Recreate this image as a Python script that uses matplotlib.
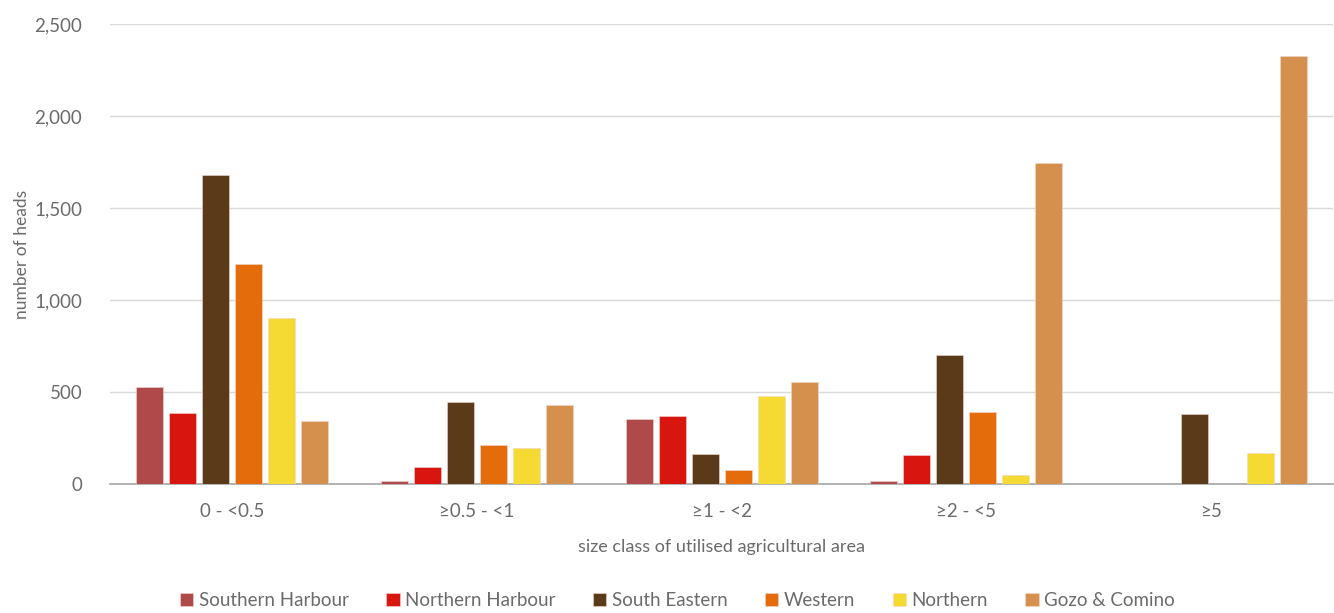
import numpy as np
import matplotlib
matplotlib.use("Agg")
import matplotlib.pyplot as plt
from matplotlib.ticker import FuncFormatter

plt.rcParams['font.family'] = ['Lato', 'DejaVu Sans']

categories = ['0 - <0.5', '≥0.5 - <1', '≥1 - <2', '≥2 - <5', '≥5']
regions = ['Southern Harbour', 'Northern Harbour', 'South Eastern', 'Western', 'Northern', 'Gozo & Comino']
colors = ['#B04A4A', '#D91510', '#5A3A18', '#E46C0A', '#F5DA33', '#D4904C']

southern_harbour = [527, 16, 355, 18, 0]
northern_harbour = [384, 95, 372, 155, 0]
south_eastern = [1680, 448, 165, 700, 380]
western = [1198, 210, 78, 390, 0]
northern = [902, 195, 480, 48, 168]
gozo_comino = [342, 432, 556, 1744, 2326]
series = [southern_harbour, northern_harbour, south_eastern, western, northern, gozo_comino]

txt = '#6b6b6b'

fig = plt.figure(figsize=(13.34, 6.13), dpi=100)
ax = fig.add_axes([0.0825, 0.2104, 0.917, 0.7506])

x = np.arange(len(categories))
step = 0.135
width = 0.11
for i, (name, vals, c) in enumerate(zip(regions, series, colors)):
    ax.bar(x + (i - 2.5) * step, vals, width, color=c, label=name,
           edgecolor='#f0d8d0', linewidth=0.4, zorder=3)

ax.set_xlim(-0.5, len(categories) - 0.5)
ax.set_ylim(0, 2500)
ax.set_yticks(range(0, 2501, 500))
ax.yaxis.set_major_formatter(FuncFormatter(lambda v, p: f'{int(v):,}'))
ax.set_xticks(x)
ax.set_xticklabels(categories)
ax.grid(axis='y', color='#d9d9d9', linewidth=1, zorder=0)
for s in ['top', 'right', 'left']:
    ax.spines[s].set_visible(False)
ax.spines['bottom'].set_color('#a6a6a6')
ax.spines['bottom'].set_linewidth(1.2)
ax.tick_params(axis='both', length=0, colors=txt, labelsize=13.5)
ax.tick_params(axis='x', pad=14)
ax.tick_params(axis='y', pad=20)

ax.set_xlabel('size class of utilised agricultural area', color=txt, fontsize=13, labelpad=13)
ax.set_ylabel('number of heads', color=txt, fontsize=12.5, labelpad=3)

fig.legend(loc='lower center', bbox_to_anchor=(0.508, 0.006), ncol=6, frameon=False,
           fontsize=13.5, labelcolor=txt, handlelength=0.7, handleheight=0.7,
           handletextpad=0.3, columnspacing=2.0, borderaxespad=0, borderpad=0)

fig.savefig('out.png', dpi=100)
